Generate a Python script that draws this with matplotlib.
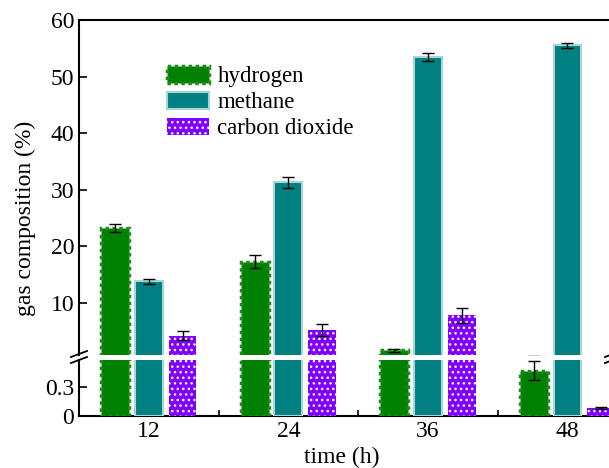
import matplotlib
matplotlib.use('Agg')
import numpy as np
from matplotlib import pyplot as plt
from matplotlib.lines import Line2D
from matplotlib.ticker import MultipleLocator

plt.rcParams['font.family'] = 'Liberation Serif'
plt.rcParams['font.size'] = 17
plt.rcParams['hatch.color'] = 'white'
plt.rcParams['hatch.linewidth'] = 1.0

# values
times = [12, 24, 36, 48]
hydrogen = [23.2, 17.3, 1.6, 0.47]
hydrogen_err = [0.7, 1.1, 0.3, 0.1]
methane = [13.8, 31.3, 53.5, 55.5]
methane_err = [0.5, 0.9, 0.7, 0.5]
co2 = [4.2, 5.2, 7.8, 0.085]
co2_err = [0.8, 1.1, 1.3, 0.012]

W, H = 609, 468
fig = plt.figure(figsize=(W / 100, H / 100), dpi=100)
left, right = 79 / W, 614 / W
ax_top = fig.add_axes([left, 1 - 355 / H, right - left, (355 - 20) / H])
ax_bot = fig.add_axes([left, 1 - 416 / H, right - left, (416 - 360) / H])

x = np.array(times, dtype=float)
off = 2.9
width = 2.4
err_kw = dict(fmt='none', ecolor='black', elinewidth=1, capsize=4, capthick=1, zorder=5)

for ax in (ax_top, ax_bot):
    ax.bar(x - off, hydrogen, width, color='#008000', edgecolor='#1a8c1a',
           linestyle=(0, (1, 1)), linewidth=2.5, label='hydrogen', zorder=3)
    ax.bar(x, methane, width, color='#008080', edgecolor='#a8d6d6',
           linewidth=1.5, label='methane', zorder=3)
    ax.bar(x + off, co2, width, color='#8000ff', hatch='...', linewidth=0,
           label='carbon dioxide', zorder=3)
    ax.errorbar(x - off, hydrogen, yerr=hydrogen_err, **err_kw)
    ax.errorbar(x, methane, yerr=methane_err, **err_kw)
    ax.errorbar(x + off, co2, yerr=co2_err, **err_kw)
    ax.set_xlim(6, 52)
    for s in ax.spines.values():
        s.set_linewidth(1.5)
    ax.tick_params(direction='in', width=1.2, length=6, labelsize=17)
    ax.tick_params(which='minor', direction='in', width=1.2, length=4)

ax_top.set_ylim(0.8, 60)
ax_top.set_yticks([10, 20, 30, 40, 50, 60])
ax_top.spines['bottom'].set_visible(False)
ax_top.tick_params(axis='x', bottom=False, labelbottom=False)

ax_bot.set_ylim(0, 0.58)
ax_bot.set_yticks([0, 0.3])
ax_bot.set_yticklabels(['0', '0.3'])
ax_bot.spines['top'].set_visible(False)
ax_bot.set_xticks(times)
ax_bot.xaxis.set_minor_locator(MultipleLocator(6))

ax_top.legend(loc='upper left', bbox_to_anchor=(167 / W, 1 - 66 / H),
              bbox_transform=fig.transFigure, frameon=False, fontsize=16.5,
              handlelength=1.85, handleheight=0.75, labelspacing=0.2,
              handletextpad=0.35, borderpad=0, borderaxespad=0)

# break marks
for px in (80, 614):
    for dy in (-3, 3):
        fig.add_artist(Line2D([(px - 9) / W, (px + 7) / W],
                              [1 - (357 + dy + 3) / H, 1 - (357 + dy - 3) / H],
                              color='black', linewidth=1.3))

fig.text(25 / W, 1 - 218 / H, 'gas composition (%)', rotation=90,
         ha='center', va='center', fontsize=17)
fig.text(342 / W, 1 - 457 / H, 'time (h)', ha='center', va='center', fontsize=17)

fig.savefig('out.png', dpi=100)
